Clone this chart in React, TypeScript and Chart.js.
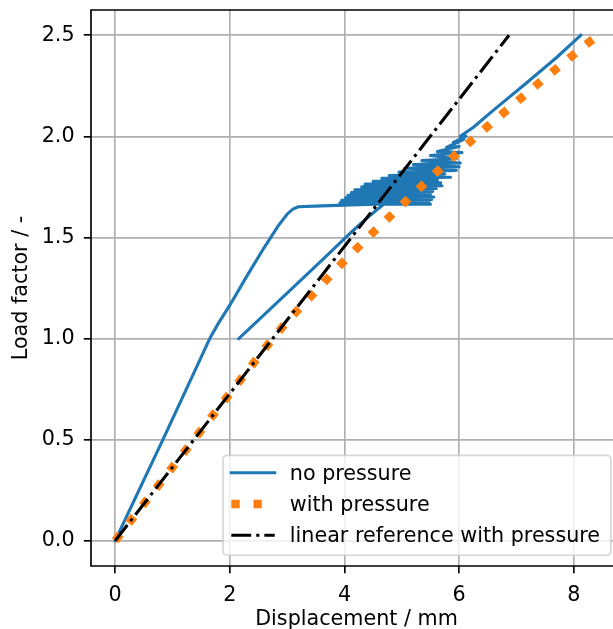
import { useEffect, useRef } from 'react';
import { Chart, registerables } from 'chart.js';

Chart.register(...registerables);

// Load–displacement response without pressure (null breaks the path between the two load steps)
const noPressureX = [
  0, 0.85, 1.65, 1.8, 2.0, 2.3, 2.6, 2.85, 3.0, 3.1, 3.2, 3.6, 4.0, 4.4, 4.8, 5.5,
  3.92, 5.48, 3.95, 5.52, 4.02, 5.56, 4.06, 5.5, 4.12, 5.54, 4.18, 5.6, 4.3, 5.7,
  4.36, 5.68, 4.5, 5.62, 4.65, 5.85, 4.78, 5.75, 4.95, 5.95, 5.05, 6.0, 5.2, 6.02,
  5.35, 5.95, 5.5, 6.05, 5.62, 6.0, 5.78, 6.08, 5.9, 6.12, 6.02, 6.25, 6.6, 7.2, 7.7, 8.12,
  null,
  2.157, 3.0, 3.6, 4.16, 4.45, 4.63, 4.85, 5.0,
];
const noPressureY = [
  0, 0.51, 1.0, 1.075, 1.165, 1.31, 1.45, 1.56, 1.615, 1.64, 1.652, 1.656, 1.66, 1.663, 1.666, 1.664,
  1.672, 1.676, 1.684, 1.688, 1.696, 1.7, 1.708, 1.714, 1.722, 1.728, 1.736, 1.742, 1.75, 1.756,
  1.764, 1.77, 1.778, 1.784, 1.792, 1.798, 1.806, 1.814, 1.824, 1.832, 1.842, 1.85, 1.86, 1.868,
  1.88, 1.89, 1.905, 1.92, 1.925, 1.95, 1.945, 1.985, 1.97, 2.0, 2.0, 2.045, 2.13, 2.27, 2.39, 2.5,
  null,
  1.0, 1.225, 1.385, 1.537, 1.61, 1.652, 1.7, 1.74,
];

// Load–displacement response with pressure
const withPressureX = [0, 1.0, 2.0, 2.65, 3.0, 3.5, 4.0, 4.5, 5.0, 5.5, 6.0, 6.5, 7.0, 7.5, 8.0, 8.42];
const withPressureY = [0, 0.364, 0.728, 0.965, 1.085, 1.235, 1.385, 1.525, 1.66, 1.795, 1.925, 2.05, 2.17, 2.29, 2.405, 2.5];

// Linear reference with pressure
const linearRefX = [0, 6.87];
const linearRefY = [0, 2.5];

const xTicks = [0, 2, 4, 6, 8];
const yTicks = [0, 0.5, 1.0, 1.5, 2.0, 2.5];

const seriesLabels = ['no pressure', 'with pressure', 'linear reference with pressure'];

const X_MIN = -0.421;
const X_MAX = 8.841;
const Y_MIN = -0.125;
const Y_MAX = 2.625;

const FAMILY = '"DejaVu Sans", sans-serif';
const FS = 20.7;

const BLUE = '#1f77b4';
const ORANGE = '#ff7f0e';

const toPoints = (xs: (number | null)[], ys: (number | null)[]) =>
  xs.map((x, i) => ({ x: x as number, y: ys[i] as number }));

// Axes frame drawn above the data lines
const framePlugin = {
  id: 'axesFrame',
  afterDatasetsDraw(chart: any) {
    const { ctx, chartArea } = chart;
    const { left, right, top, bottom } = chartArea;
    ctx.save();
    ctx.strokeStyle = '#000';
    ctx.lineWidth = 1.66;
    ctx.lineCap = 'square';
    ctx.beginPath();
    ctx.moveTo(left, bottom);
    ctx.lineTo(left, top);
    ctx.lineTo(right, top);
    ctx.lineTo(right, bottom);
    ctx.closePath();
    ctx.stroke();
    ctx.restore();
  },
};

// Framed legend in the lower right corner of the axes
const legendPlugin = {
  id: 'framedLegend',
  afterDraw(chart: any) {
    const { ctx, chartArea } = chart;
    const datasets = chart.data.datasets;
    const pad = 0.4 * FS;
    const handleLen = 2 * FS;
    const textPad = 0.8 * FS;
    const rowH = 20.9;
    const rowGap = 0.5 * FS;
    ctx.save();
    ctx.font = `${FS}px ${FAMILY}`;
    const textW = Math.max(...seriesLabels.map((s) => ctx.measureText(s).width));
    const w = pad + handleLen + textPad + textW + pad + 3;
    const h = 2 * pad + 3 * rowH + 2 * rowGap;
    const right = chartArea.right - 0.5 * FS - 0.8;
    const bottom = chartArea.bottom - 0.5 * FS - 0.4;
    const left = right - w;
    const top = bottom - h;

    ctx.beginPath();
    ctx.roundRect(left, top, w, h, 4);
    ctx.fillStyle = 'rgba(255,255,255,0.8)';
    ctx.fill();
    ctx.strokeStyle = 'rgba(204,204,204,0.8)';
    ctx.lineWidth = 1.7;
    ctx.stroke();

    datasets.forEach((ds: any, i: number) => {
      const rowTop = top + pad + i * (rowH + rowGap);
      const hy = rowTop + 9.2;
      const hx0 = left + pad;
      ctx.save();
      ctx.strokeStyle = ds.borderColor;
      ctx.lineWidth = ds.borderWidth;
      ctx.setLineDash(ds.borderDash || []);
      ctx.lineCap = ds.borderDash ? 'butt' : 'square';
      ctx.beginPath();
      ctx.moveTo(hx0, hy);
      ctx.lineTo(hx0 + handleLen + 2, hy);
      ctx.stroke();
      ctx.restore();

      ctx.fillStyle = '#000';
      ctx.textAlign = 'left';
      ctx.textBaseline = 'alphabetic';
      ctx.fillText(seriesLabels[i], hx0 + handleLen + textPad + 0.5, rowTop + 16.1);
    });
    ctx.restore();
  },
};

export default function App() {
  const canvasRef = useRef<HTMLCanvasElement | null>(null);

  useEffect(() => {
    const canvas = canvasRef.current;
    if (!canvas) return;

    const tickFont = { family: FAMILY, size: FS };

    const chart = new Chart(canvas, {
      type: 'line',
      data: {
        datasets: [
          {
            label: seriesLabels[0],
            data: toPoints(noPressureX, noPressureY),
            borderColor: BLUE,
            borderWidth: 3.1,
            borderJoinStyle: 'round',
            borderCapStyle: 'square',
            pointRadius: 0,
            tension: 0,
            spanGaps: false,
            order: 3,
          },
          {
            label: seriesLabels[1],
            data: toPoints(withPressureX, withPressureY),
            borderColor: ORANGE,
            borderWidth: 8.36,
            borderDash: [8.36, 13.79],
            borderCapStyle: 'butt',
            borderJoinStyle: 'round',
            pointRadius: 0,
            tension: 0,
            order: 2,
          },
          {
            label: seriesLabels[2],
            data: toPoints(linearRefX, linearRefY),
            borderColor: '#000000',
            borderWidth: 3.1,
            borderDash: [19.9, 5.0, 3.1, 5.0],
            borderCapStyle: 'butt',
            pointRadius: 0,
            tension: 0,
            order: 1,
          },
        ],
      } as any,
      options: {
        responsive: false,
        animation: false,
        devicePixelRatio: 1,
        layout: { padding: { top: 10, right: 18, bottom: 0, left: 0 } },
        plugins: {
          legend: { display: false },
          tooltip: { enabled: false },
        },
        scales: {
          x: {
            type: 'linear',
            min: X_MIN,
            max: X_MAX,
            afterBuildTicks: (s: any) => {
              s.ticks = xTicks.map((v) => ({ value: v }));
            },
            afterFit: (s: any) => {
              s.height = 74;
              s.paddingLeft = 0;
              s.paddingRight = 0;
            },
            grid: {
              color: '#b0b0b0',
              lineWidth: 1.66,
              drawTicks: true,
              tickLength: 7.2,
              tickColor: '#000',
              tickWidth: 1.66,
            },
            border: { display: false },
            ticks: {
              color: '#000',
              font: tickFont,
              padding: 9.6,
              maxRotation: 0,
              autoSkip: false,
              callback: (v: any) => String(v),
            },
            title: {
              display: true,
              text: 'Displacement / mm',
              color: '#000',
              font: tickFont,
              padding: { top: 0, bottom: 7.5 },
            },
          },
          y: {
            type: 'linear',
            min: Y_MIN,
            max: Y_MAX,
            afterBuildTicks: (s: any) => {
              s.ticks = yTicks.map((v) => ({ value: v }));
            },
            afterFit: (s: any) => {
              s.width = 91;
              s.paddingTop = 0;
              s.paddingBottom = 0;
            },
            grid: {
              color: '#b0b0b0',
              lineWidth: 1.66,
              drawTicks: true,
              tickLength: 7.2,
              tickColor: '#000',
              tickWidth: 1.66,
            },
            border: { display: false },
            ticks: {
              color: '#000',
              font: tickFont,
              padding: 9.2,
              autoSkip: false,
              callback: (v: any) => Number(v).toFixed(1),
            },
            title: {
              display: true,
              text: 'Load factor / -',
              color: '#000',
              font: tickFont,
              padding: { top: 9.2, bottom: 0 },
            },
          },
        },
      } as any,
      plugins: [framePlugin, legendPlugin],
    });

    return () => chart.destroy();
  }, []);

  return (
    <div
      style={{
        position: 'fixed',
        left: 0,
        top: 0,
        width: 613,
        height: 629,
        overflow: 'hidden',
        background: '#fff',
      }}
    >
      <canvas ref={canvasRef} width={640} height={640} style={{ width: 640, height: 640, display: 'block' }} />
    </div>
  );
}
